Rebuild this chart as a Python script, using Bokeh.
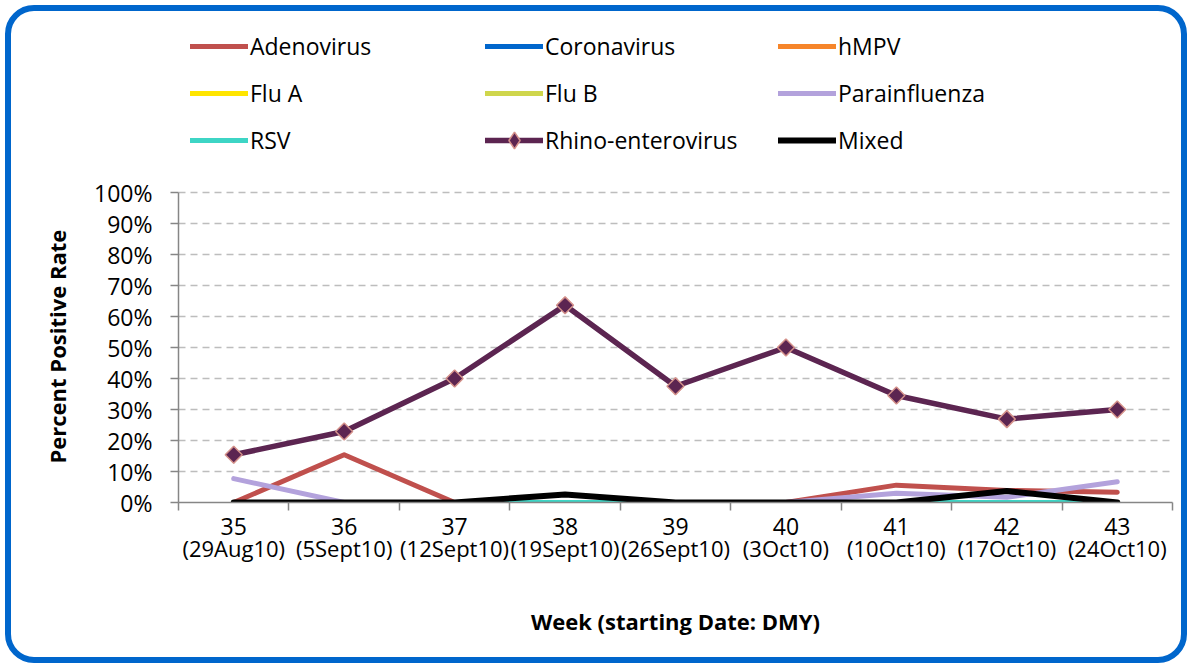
from bokeh.plotting import figure
from bokeh.models import (Range1d, FixedTicker, PrintfTickFormatter, Legend, LegendItem,
                          LinearAxis, Title)
from bokeh.embed import file_html
from bokeh.resources import INLINE
import math

# ---- data ----
weeks = ["35", "36", "37", "38", "39", "40", "41", "42", "43"]
start_dates = ["29Aug10", "5Sept10", "12Sept10", "19Sept10", "26Sept10",
               "3Oct10", "10Oct10", "17Oct10", "24Oct10"]
adenovirus = [0, 15.4, 0, 0, 0, 0, 5.6, 3.9, 3.3]
coronavirus = [0, 0, 0, 0, 0, 0, 0, 0, 0]
hmpv = [0, 0, 0, 0, 0, 0, 0, 0, 0]
flu_a = [0, 0, 0, 0, 0, 0, 0, 0, 0]
flu_b = [0, 0, 0, 0, 0, 0, 0, 0, 0]
parainfluenza = [7.7, 0, 0, 0, 0, 0, 3.0, 1.7, 6.7]
rsv = [0, 0, 0, 0, 0, 0, 0, 0, 0]
rhino = [15.4, 22.9, 40.0, 63.6, 37.5, 50.0, 34.5, 26.9, 30.0]
mixed = [0, 0, 0, 2.6, 0, 0, 0, 3.7, 0]
y_tick_values = [0, 10, 20, 30, 40, 50, 60, 70, 80, 90, 100]

xs = list(range(len(weeks)))
FONT = "Open Sans"
AXIS_GRAY = "#868686"

# layout (pixels): the frame spans from the canvas top down to the 0% line;
# 100% sits TOP_100 px below the canvas top so the legend fits above it
W, H = 1192, 668
FRAME_BOTTOM = 502
TOP_100 = 192
y_top = 100 * FRAME_BOTTOM / (FRAME_BOTTOM - TOP_100)

p = figure(width=W, height=H,
           x_range=Range1d(-0.5, len(weeks) - 0.5), y_range=Range1d(0, y_top),
           output_backend="svg", toolbar_location=None,
           min_border_left=178, min_border_right=20,
           min_border_top=0, min_border_bottom=H - FRAME_BOTTOM)
p.outline_line_color = None
p.background_fill_alpha = 0
p.border_fill_alpha = 0
p.styles = {"outline": "6px solid #0066CC", "outline-offset": "-11px",
            "border-radius": "34px", "background-color": "white"}

# ---- x axis: week numbers (with boundary ticks) ----
xa = p.xaxis[0]
xa.ticker = FixedTicker(ticks=xs, minor_ticks=[i - 0.5 for i in range(len(weeks) + 1)])
xa.major_label_overrides = {i: w for i, w in enumerate(weeks)}
xa.major_tick_out = 0
xa.major_tick_in = 0
xa.minor_tick_out = 8
xa.minor_tick_in = 0
xa.minor_tick_line_color = AXIS_GRAY
xa.minor_tick_line_width = 1.5
xa.axis_line_color = AXIS_GRAY
xa.axis_line_width = 1.5
xa.major_label_standoff = 7
xa.major_label_text_font = FONT
xa.major_label_text_font_size = "23px"
xa.major_label_text_color = "#000000"

# ---- x axis: starting dates ----
xa2 = LinearAxis(ticker=FixedTicker(ticks=xs),
                 major_label_overrides={i: f"({d})" for i, d in enumerate(start_dates)})
xa2.major_tick_out = 0
xa2.major_tick_in = 0
xa2.minor_tick_out = 0
xa2.minor_tick_in = 0
xa2.axis_line_color = None
xa2.major_label_standoff = -5
xa2.major_label_text_font = FONT
xa2.major_label_text_font_size = "22px"
xa2.major_label_text_color = "#000000"
xa2.axis_label = "Week (starting Date: DMY)"
xa2.axis_label_text_font = FONT
xa2.axis_label_text_font_size = "22px"
xa2.axis_label_text_font_style = "bold"
xa2.axis_label_text_color = "#000000"
xa2.axis_label_standoff = 40
p.add_layout(xa2, "below")

# ---- y axis ----
ya = p.yaxis[0]
ya.bounds = (0, 100)
ya.ticker = FixedTicker(ticks=y_tick_values)
ya.formatter = PrintfTickFormatter(format="%d%%")
ya.major_tick_out = 8
ya.major_tick_in = 0
ya.minor_tick_out = 0
ya.minor_tick_in = 0
ya.major_tick_line_color = AXIS_GRAY
ya.major_tick_line_width = 1.5
ya.axis_line_color = AXIS_GRAY
ya.axis_line_width = 1.5
ya.major_label_standoff = 18
ya.major_label_text_font = FONT
ya.major_label_text_font_size = "23px"
ya.major_label_text_color = "#000000"

# y axis title, anchored to the bottom of the 0-100% span
ytitle = Title(text="Percent Positive Rate", align="left", offset=FRAME_BOTTOM - 463,
               standoff=40, text_font=FONT, text_font_size="22px",
               text_font_style="bold", text_color="#000000")
p.add_layout(ytitle, "left")

p.xgrid.visible = False
p.ygrid.ticker = FixedTicker(ticks=y_tick_values[1:])
p.ygrid.grid_line_color = "#BDBDBD"
p.ygrid.grid_line_width = 1.5
p.ygrid.grid_line_dash = "7 5"

# ---- series ----
series = [
    ("Adenovirus", adenovirus, "#C0504D", 5),
    ("Coronavirus", coronavirus, "#0066CC", 5),
    ("hMPV", hmpv, "#F6852A", 5),
    ("Flu A", flu_a, "#FFE500", 5),
    ("Flu B", flu_b, "#CFD64C", 5),
    ("Parainfluenza", parainfluenza, "#B3A2DC", 5),
    ("RSV", rsv, "#3DD5C5", 5),
]
renderers = {}
for name, vals, color, lw in series:
    renderers[name] = [p.line(xs, vals, line_color=color, line_width=lw,
                              line_join="round", line_cap="round")]

RHINO_COLOR = "#5C2551"
RHINO_EDGE = "#D4918A"
rl = p.line(xs, rhino, line_color=RHINO_COLOR, line_width=5.5, line_join="round", line_cap="round")
# narrow diamond used as the legend symbol (fully hidden beneath the data markers)
rm_leg = p.scatter(xs, rhino, marker="diamond", size=16,
                   fill_color=RHINO_COLOR, line_color=RHINO_EDGE, line_width=1.5)
rm = p.scatter(xs, rhino, marker="square", size=12, angle=math.pi / 4,
               fill_color=RHINO_COLOR, line_color=RHINO_EDGE, line_width=1.5)
renderers["Rhino-enterovirus"] = [rl, rm_leg]
renderers["Mixed"] = [p.line(xs, mixed, line_color="#000000", line_width=6,
                             line_join="round", line_cap="round")]

# ---- legend: three columns ----
LEGEND_BOTTOM = 161
columns = [
    (["Adenovirus", "Flu A", "RSV"], 12),
    (["Coronavirus", "Flu B", "Rhino-enterovirus"], 307),
    (["hMPV", "Parainfluenza", "Mixed"], 600),
]
for names, xoff in columns:
    lg = Legend(items=[LegendItem(label=n, renderers=renderers[n]) for n in names],
                location=(xoff, FRAME_BOTTOM - LEGEND_BOTTOM), orientation="vertical",
                glyph_width=58, glyph_height=42, label_height=42,
                label_standoff=2, spacing=5, padding=0, margin=0,
                border_line_color=None, background_fill_alpha=0,
                label_text_font=FONT, label_text_font_size="23px",
                label_text_color="#000000")
    p.add_layout(lg)

open("out.html", "w").write(file_html(p, INLINE))
